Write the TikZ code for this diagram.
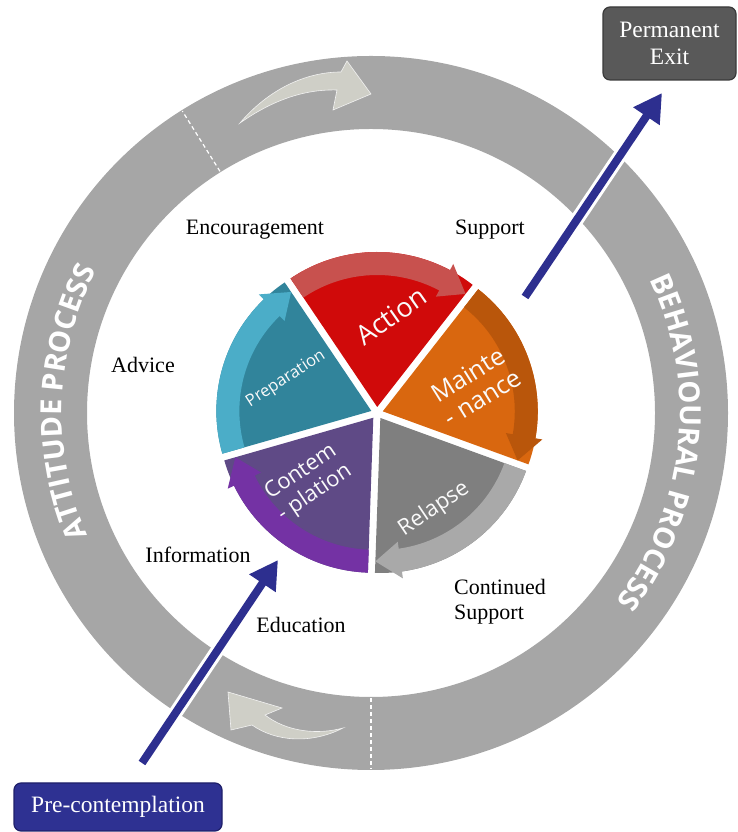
\documentclass[tikz,border=0pt]{standalone}
\usepackage{fontspec}
\setmainfont{Liberation Serif}
\newfontfamily\osans{Open Sans}
\usetikzlibrary{arrows.meta,decorations.text,calc}
\definecolor{ringgray}{HTML}{A6A6A6}
\definecolor{ringarrowfill}{HTML}{CFCFC7}
\definecolor{arrowblue}{HTML}{2D2F8F}
\definecolor{preblue}{HTML}{2E3192}
\definecolor{preborder}{HTML}{1F206A}
\definecolor{exitgray}{HTML}{595959}
\definecolor{exitborder}{HTML}{3A3A3A}
\definecolor{actw}{HTML}{D00A0A}
\definecolor{actb}{HTML}{C8514E}
\definecolor{mntw}{HTML}{D9670F}
\definecolor{mntb}{HTML}{B9560B}
\definecolor{relw}{HTML}{7F7F7F}
\definecolor{relb}{HTML}{A9A9A9}
\definecolor{conw}{HTML}{5F4A86}
\definecolor{conb}{HTML}{7432A4}
\definecolor{prpw}{HTML}{31849B}
\definecolor{prpb}{HTML}{4BADC8}
\begin{document}
\begin{tikzpicture}[x=1pt,y=1pt,
  lbl/.style={font=\fontsize{22}{25}\selectfont, inner sep=0pt},
  pietext/.style={text=white!96!gray, align=center, inner sep=0pt},
  boxnode/.style={rounded corners=7pt, text=white, align=center, inner sep=0pt, line width=1.2pt, font=\fontsize{23.5}{27}\selectfont},
  bluearrow/.style={draw=arrowblue, line width=8pt, -{Triangle[length=28pt,width=30pt]}},
  arrowhalo/.style={draw=white, line width=14pt},
  ringarrow/.style={fill=ringarrowfill, draw=white!90!gray, line width=0.6pt}]

\useasboundingbox (0,0) rectangle (738,832);
\coordinate (C) at (371,419);
\coordinate (P) at (377,419);

% ring
\fill[ringgray, even odd rule] (C) circle[radius=357pt] (C) circle[radius=284pt];
\foreach \a in {122,270}
  \draw[white, line width=1.2pt, dash pattern=on 4pt off 3pt] ($(C)+(\a:285pt)$) -- ($(C)+(\a:356pt)$);

% ring texts
\path[decorate, decoration={text along path, text align=center, text color=white,
  text={|\osans\bfseries\fontsize{29}{29}\selectfont|ATTITUDE PROCESS}}]
  ($(C)+(215:309pt)$) arc[start angle=215, end angle=141, radius=309pt];
\path[decorate, decoration={text along path, text align=center, text color=white,
  text={|\osans\bfseries\fontsize{29}{29}\selectfont|BEHAVIOURAL PROCESS}}]
  ($(C)+(40:309pt)$) arc[start angle=40, end angle=-52, radius=309pt];

% ring curved arrows
\filldraw[ringarrow] (240,709) .. controls (268,742) and (305,760) .. (341,760) -- (347,771) -- (371,738) -- (333,722) -- (337,742) .. controls (302,743) and (270,730) .. (240,709) -- cycle;
\filldraw[ringarrow] (228,140) -- (282,124) -- (265,117) .. controls (287,100) and (318,97) .. (343,104) .. controls (312,88) and (276,90) .. (252,107) -- (231,102) -- cycle;

% pie
\foreach \s/\wc/\bc in {124/actw/actb, 52/mntw/mntb, -20/relw/relb, -92/conw/conb, -164/prpw/prpb}{
  \pgfmathsetmacro{\e}{\s-72}
  \pgfmathsetmacro{\m}{\s-36}
  \pgfmathsetmacro{\h}{\s-62}
  \begin{scope}[shift={(P)}, shift={(\m:6pt)}]
    \fill[\wc] (0,0) -- (\s:155pt) arc[start angle=\s, end angle=\e, radius=155pt] -- cycle;
    \fill[\bc] (\s:132pt) arc[start angle=\s, end angle=\h, radius=132pt] -- (\h:125pt) -- (\e:143.5pt) -- (\h:162pt) -- (\h:155pt) arc[start angle=\h, end angle=\s, radius=155pt] -- cycle;
  \end{scope}
}

% pie texts
\node[pietext, rotate=35, font=\osans\fontsize{27}{27}\selectfont] (action) at (391,516) {Action};
\node[pietext, rotate=32, font=\osans\fontsize{25}{27}\selectfont] (maint) at (475,446) {Mainte\\- nance};
\node[pietext, rotate=34, font=\osans\fontsize{22}{24}\selectfont] (relapse) at (434,323) {Relapse};
\node[pietext, rotate=34, font=\osans\fontsize{22}{25}\selectfont] (contem) at (308,349) {Contem\\- plation};
\node[pietext, rotate=33, font=\osans\fontsize{16.5}{18}\selectfont] (prep) at (286,453) {Preparation};

% outer labels
\node[lbl] (enc) at (255,602) {Encouragement};
\node[lbl] (sup) at (490,602) {Support};
\node[lbl] (adv) at (143,467) {Advice};
\node[lbl] (inf) at (198,277) {Information};
\node[lbl] (edu) at (301,207) {Education};
\node[lbl, anchor=west, align=left] (csup) at (454,230) {Continued\\Support};

% boxes
\node[boxnode, fill=exitgray, draw=exitborder, minimum width=133pt, minimum height=73pt] (exit) at (669.5,788.5) {Permanent\\Exit};
\node[boxnode, fill=preblue, draw=preborder, minimum width=208pt, minimum height=48pt] (pre) at (118,25) {Pre-contemplation};

% blue arrows
\coordinate (t1) at (142,69);
\coordinate (h1) at (278,272);
\coordinate (t2) at (525,535);
\coordinate (h2) at (662,739);
\draw[arrowhalo] (t1) -- ($(t1)!0.88!(h1)$);
\draw[arrowhalo] (t2) -- ($(t2)!0.88!(h2)$);
\draw[bluearrow] (t1) -- (h1);
\draw[bluearrow] (t2) -- (h2);
\end{tikzpicture}
\end{document}
